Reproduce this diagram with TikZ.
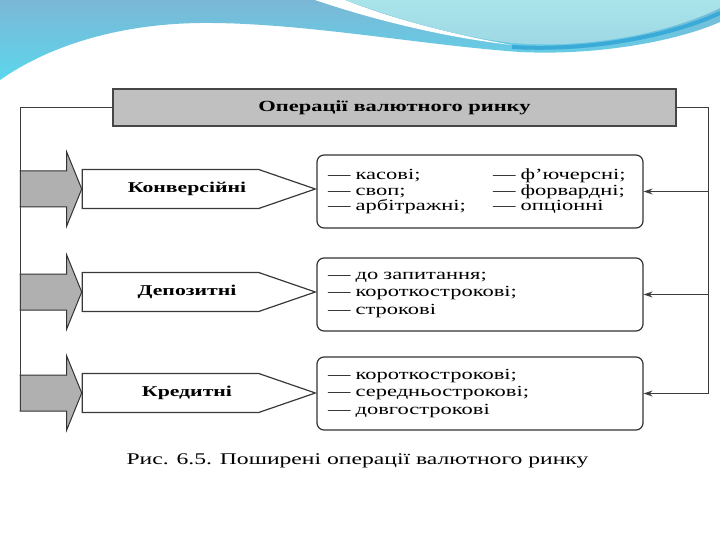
\documentclass[tikz,border=0pt]{standalone}
\usepackage{fontspec}
\setmainfont{Liberation Serif}[FakeStretch=1.45]
\usetikzlibrary{calc,positioning,arrows.meta,shapes.symbols}
\definecolor{linegray}{RGB}{60,60,60}
\definecolor{boxgray}{RGB}{192,192,192}
\definecolor{arrowgray}{RGB}{176,176,176}
\definecolor{waveblue}{RGB}{122,184,214}
\definecolor{wavecyan}{RGB}{92,214,236}
\definecolor{wavelight}{RGB}{170,228,234}
\definecolor{wavedeep}{RGB}{58,170,216}
\tikzset{
  titlebox/.style={draw=gray!55!black, fill=boxgray, line width=1.4pt,
                   minimum width=563pt, minimum height=37pt,
                   font=\bfseries\fontsize{15.5}{18}\selectfont},
  tagbox/.style={signal, signal to=east, signal pointer angle=38,
                 draw=gray!45!black, fill=white, line width=1.2pt,
                 minimum width=233pt, minimum height=39pt, inner sep=0pt},
  tagtext/.style={font=\bfseries\fontsize{15}{18}\selectfont},
  listbox/.style={draw=gray!40!black, rounded corners=7pt, line width=1.2pt,
                  minimum height=73pt, text width=304pt, inner xsep=11pt,
                  align=left, font=\fontsize{15.5}{17.5}\selectfont},
  link/.style={linegray, line width=1pt},
  feed/.style={link, -{Stealth[length=9pt,width=6pt]}},
  fatarrow/.style={fill=arrowgray, draw=gray!40!black, line width=1pt},
}

\begin{document}
\begin{tikzpicture}[x=1pt,y=-1pt]
  \useasboundingbox[fill=white] (0,0) rectangle (720,540);
  % slide header waves
  \shade[top color=waveblue, bottom color=wavecyan]
    (0,0) -- (0,80) .. controls (50,45) and (120,24) .. (200,23)
    .. controls (300,22) and (420,45) .. (520,52)
    .. controls (600,56) and (680,40) .. (720,22) -- (720,0) -- cycle;
  \fill[white] (315,0) .. controls (380,22) and (450,38) .. (512,45)
    .. controls (450,34) and (390,18) .. (345,0) -- cycle;
  \shade[top color=wavelight, bottom color=wavelight!70!waveblue]
    (345,0) .. controls (400,20) and (455,36) .. (512,43)
    .. controls (600,50) and (680,28) .. (720,8) -- (720,0) -- cycle;
  \draw[wavedeep, line width=4pt] (512,47) .. controls (600,52) and (680,32) .. (720,13);

  \node[titlebox] (title) at (394.5,107.5) {Операції валютного ринку};

  \node[tagbox, label={[tagtext,xshift=16.5pt]center:Конверсійні}] (konv) at (170.5,189) {};
  \node[tagbox, label={[tagtext,xshift=16.5pt]center:Депозитні}] (depo) at (170.5,292) {};
  \node[tagbox, label={[tagtext,xshift=16.5pt]center:Кредитні}] (kred) at (170.5,393) {};

  \node[listbox, font=\fontsize{15.5}{15.5}\selectfont] (konvlist) at (480,191.5)
    {\makebox[165pt][l]{— касові;}— ф’ючерсні;\\
     \makebox[165pt][l]{— своп;}— форвардні;\\
     \makebox[165pt][l]{— арбітражні;}— опціонні};
  \node[listbox] (depolist) at (480,294.5)
    {— до запитання;\\— короткострокові;\\— строкові};
  \node[listbox] (kredlist) at (480,393.5)
    {— короткострокові;\\— середньострокові;\\— довгострокові};

  % thick grey arrows from the left rail
  \foreach \k in {konv,depo,kred}
    \draw[fatarrow] ($(\k.west)+(-62,-18)$) -- ($(\k.west)+(-15,-18)$)
      -- ($(\k.west)+(-15,-37)$) -- (\k.west) -- ($(\k.west)+(-15,37)$)
      -- ($(\k.west)+(-15,18)$) -- ($(\k.west)+(-62,18)$);

  \coordinate (lbot) at (20,411);
  \coordinate (rbot) at (708,393.5);
  \draw[link] (title.west) -| (lbot);
  \draw[link] (title.east) -| (rbot);
  \draw[feed] (konvlist.east -| rbot) -- (konvlist.east);
  \draw[feed] (depolist.east -| rbot) -- (depolist.east);
  \draw[feed] (kredlist.east -| rbot) -- (kredlist.east);

  \node[font=\fontsize{16.3}{19}\selectfont] (caption) at (357.5,461)
    {Рис. 6.5. Поширені операції валютного ринку};
\end{tikzpicture}
\end{document}
